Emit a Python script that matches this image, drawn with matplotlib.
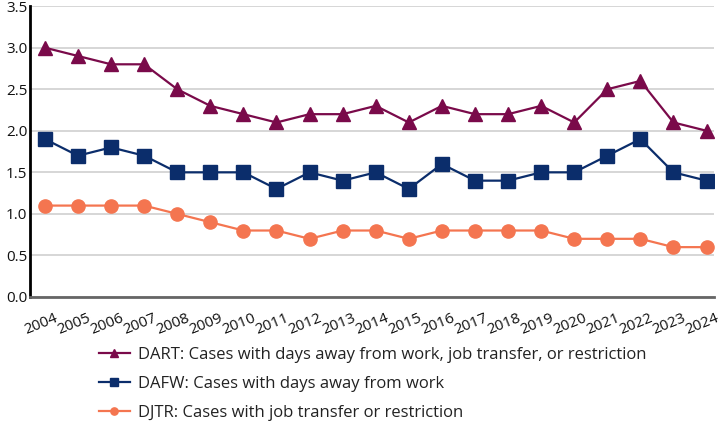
import matplotlib.pyplot as plt
import matplotlib.transforms as mtransforms

years = list(range(2004, 2025))
dart = [3.0, 2.9, 2.8, 2.8, 2.5, 2.3, 2.2, 2.1, 2.2, 2.2, 2.3, 2.1, 2.3, 2.2, 2.2, 2.3, 2.1, 2.5, 2.6, 2.1, 2.0]
dafw = [1.9, 1.7, 1.8, 1.7, 1.5, 1.5, 1.5, 1.3, 1.5, 1.4, 1.5, 1.3, 1.6, 1.4, 1.4, 1.5, 1.5, 1.7, 1.9, 1.5, 1.4]
djtr = [1.1, 1.1, 1.1, 1.1, 1.0, 0.9, 0.8, 0.8, 0.7, 0.8, 0.8, 0.7, 0.8, 0.8, 0.8, 0.8, 0.7, 0.7, 0.7, 0.6, 0.6]

labels = ['DART: Cases with days away from work, job transfer, or restriction',
          'DAFW: Cases with days away from work',
          'DJTR: Cases with job transfer or restriction']

plt.rcParams['font.family'] = ['Open Sans', 'DejaVu Sans']

fig = plt.figure(figsize=(7.22, 4.29), dpi=100)
ax = fig.add_axes([0.0416, 0.3077, 0.948, 0.678])

ax.plot(years, dart, color='#7a0a4a', marker='^', markersize=10.5, lw=1.6, label=labels[0], zorder=3)
ax.plot(years, dafw, color='#0b2d6b', marker='s', markersize=9.5, lw=1.6, label=labels[1], zorder=3)
ax.plot(years, djtr, color='#f47550', marker='o', markersize=9.5, lw=1.6, label=labels[2], zorder=3)

ax.set_xlim(2003.55, 2024.24)
ax.set_ylim(0, 3.5)
ax.set_yticks([0, 0.5, 1.0, 1.5, 2.0, 2.5, 3.0, 3.5])
ax.set_yticklabels(['0.0', '0.5', '1.0', '1.5', '2.0', '2.5', '3.0', '3.5'])
ax.set_xticks(years)
ax.set_xticklabels([str(y) for y in years], rotation=22, ha='center')
ax.tick_params(axis='both', length=0, labelsize=11, colors='#111111')
ax.tick_params(axis='x', pad=10)
ax.tick_params(axis='y', pad=2)

# nudge year labels slightly left so 2024 stays inside
shift = mtransforms.ScaledTranslation(-4 / 100, 0, fig.dpi_scale_trans)
for lab in ax.get_xticklabels():
    lab.set_transform(lab.get_transform() + shift)

ax.grid(axis='y', color='#d0d0d0', lw=1.2)
ax.set_axisbelow(True)
for s in ['top', 'right']:
    ax.spines[s].set_visible(False)
ax.spines['left'].set_color('black')
ax.spines['left'].set_linewidth(2)
ax.spines['bottom'].set_color('#666666')
ax.spines['bottom'].set_linewidth(2)

fig.legend(loc='upper left', bbox_to_anchor=(0.125, 0.21), frameon=False,
           fontsize=12, handlelength=1.9, labelspacing=0.78, borderpad=0,
           handletextpad=0.45, markerscale=0.55, labelcolor='#222222')

fig.savefig('out.png', dpi=100)
